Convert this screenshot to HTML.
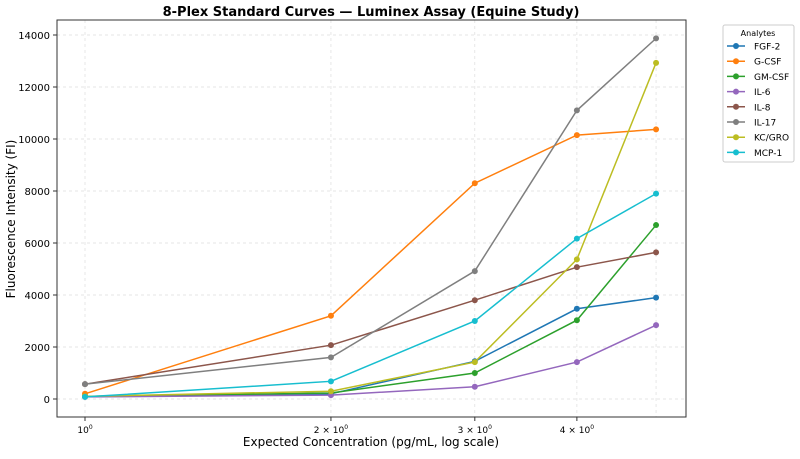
<!DOCTYPE html>
<html><head><meta charset="utf-8"><style>
body{margin:0;background:#fff;font-family:"Liberation Sans","DejaVu Sans",sans-serif}
svg text{font-family:"DejaVu Sans","Liberation Sans",sans-serif}
</style></head><body>
<svg id="chart" width="800" height="454" xmlns="http://www.w3.org/2000/svg">
<text x="371" y="16" text-anchor="middle" font-size="13" font-weight="bold">8-Plex Standard Curves — Luminex Assay (Equine Study)</text>
<g id="grid"></g>
<g id="series"></g>
<rect x="57" y="20" width="629" height="397" fill="none" stroke="#333" stroke-width="1"/>
<g id="axes"></g>
<text x="371" y="446" text-anchor="middle" font-size="12">Expected Concentration (pg/mL, log scale)</text>
<text transform="translate(15,219) rotate(-90)" text-anchor="middle" font-size="12">Fluorescence Intensity (FI)</text>
<g id="legend"></g>
</svg>
<script>
const categories=[1,2,3,4,5];
const seriesNames=["FGF-2","G-CSF","GM-CSF","IL-6","IL-8","IL-17","KC/GRO","MCP-1"];
const fgf2=[100,200,1450,3470,3900];
const gcsf=[200,3200,8300,10150,10370];
const gmcsf=[100,230,1000,3030,6690];
const il6=[80,150,470,1420,2840];
const il8=[570,2070,3800,5070,5640];
const il17=[570,1600,4920,11100,13870];
const kcgro=[100,300,1420,5370,12930];
const mcp1=[80,680,3000,6170,7900];
const yTicks=[0,2000,4000,6000,8000,10000,12000,14000];
const xTicks=[1,2,3,4];
const xTickLabels=["10","2 × 10","3 × 10","4 × 10"];
const colors=["#1f77b4","#ff7f0e","#2ca02c","#9467bd","#8c564b","#7f7f7f","#bcbd22","#17becf"];
const allSeries=[fgf2,gcsf,gmcsf,il6,il8,il17,kcgro,mcp1];
const NS="http://www.w3.org/2000/svg";
const X=v=>85+Math.log10(v)*817;
const Y=v=>399-v*0.026;
function mk(t,a,p){const e=document.createElementNS(NS,t);for(const k in a)e.setAttribute(k,a[k]);p.appendChild(e);return e;}
const grid=document.getElementById('grid'),axes=document.getElementById('axes'),ser=document.getElementById('series'),leg=document.getElementById('legend');
yTicks.forEach(t=>{
 const l=mk('line',{x1:57,x2:686,y1:Y(t),y2:Y(t),stroke:'#ddd','stroke-dasharray':'3,3','stroke-width':0.7},grid);
 
 
 mk('line',{x1:53,x2:57,y1:Y(t),y2:Y(t),stroke:'#333'},axes);
 const tx=mk('text',{x:50,y:Y(t)+4,'text-anchor':'end','font-size':10},axes);tx.textContent=t;
 
 
});
categories.forEach(c=>{
 const l=mk('line',{x1:X(c),x2:X(c),y1:20,y2:417,stroke:'#ddd','stroke-dasharray':'3,3','stroke-width':0.7},grid);
 
 
});
xTicks.forEach((c,i)=>{
 mk('line',{x1:X(c),x2:X(c),y1:417,y2:421,stroke:'#333'},axes);
 const tx=mk('text',{x:X(c),y:433,'text-anchor':'middle','font-size':9},axes);
 tx.textContent=xTickLabels[i];
 const s=mk('tspan',{dy:-4,'font-size':6},tx);s.textContent='0';
 
 
});
allSeries.forEach((d,i)=>{
 const g=mk('g',{},ser);
 
 
 const p=mk('polyline',{points:d.map((v,j)=>X(categories[j])+','+Y(v)).join(' '),fill:'none',stroke:colors[i],'stroke-width':1.5},g);
 
 
 d.forEach((v,j)=>{const c=mk('circle',{cx:X(categories[j]),cy:Y(v),r:3,fill:colors[i]},g);
  
  });
});
mk('rect',{x:723,y:25,width:71,height:137,fill:'#fff',stroke:'#ccc',rx:2},leg);
const lt=mk('text',{x:758,y:36,'text-anchor':'middle','font-size':8},leg);lt.textContent='Analytes';
seriesNames.forEach((n,i)=>{
 const y=46+i*15.2;
 const g=mk('g',{},leg);
 
 
 mk('line',{x1:727,x2:745,y1:y,y2:y,stroke:colors[i],'stroke-width':1.5},g);
 mk('circle',{cx:736,cy:y,r:3,fill:colors[i]},g);
 const t=mk('text',{x:754,y:y+3.5,'font-size':9},g);t.textContent=n;
});
</script>
</body></html>
